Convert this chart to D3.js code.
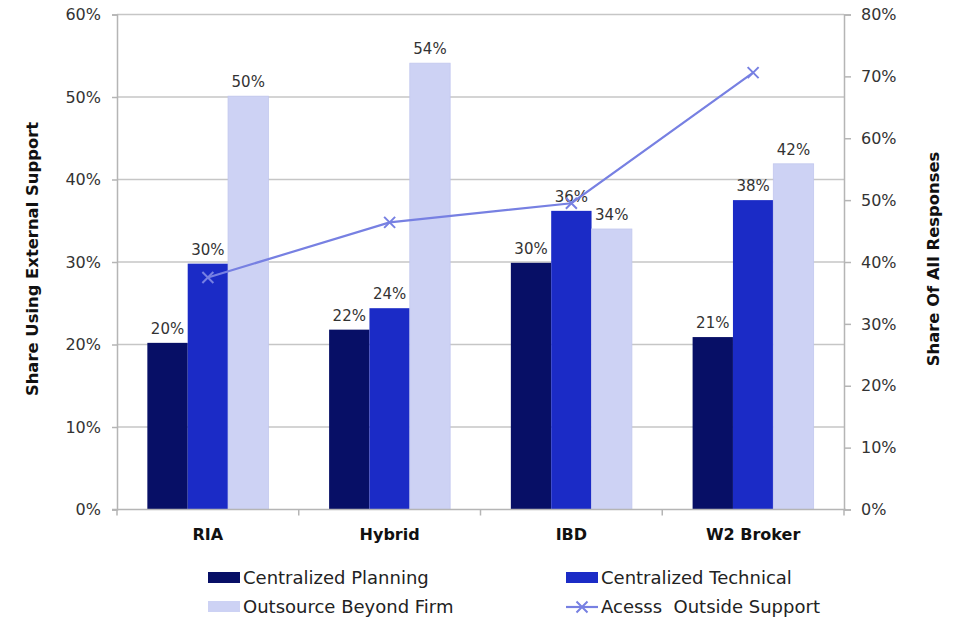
<!DOCTYPE html>
<html><head><meta charset="utf-8">
<script src="https://cdn.jsdelivr.net/npm/d3@7"></script>
<style>
body{margin:0;background:#fff;}
svg{display:block;font-family:"DejaVu Sans",sans-serif;}
</style></head>
<body><svg id="c" width="957" height="619"></svg>
<script>
const categories = ["RIA","Hybrid","IBD","W2 Broker"];
const planning = [20.2, 21.8, 29.9, 20.9];
const technical = [29.8, 24.4, 36.2, 37.5];
const outsource = [50.1, 54.1, 34.0, 41.9];
const accessOutside = [37.5, 46.4, 49.5, 70.6];
const leftTicks = [0,10,20,30,40,50,60];
const rightTicks = [0,10,20,30,40,50,60,70,80];
const seriesNames = ["Centralized Planning","Centralized Technical","Outsource Beyond Firm","Acesss  Outside Support"];
const barLabels = [["20%","22%","30%","21%"],["30%","24%","36%","38%"],["50%","54%","34%","42%"]];

const colors = ["#070f66","#1b2bc6","#cdd2f4"];
const lineColor = "#7780e2";
const svg = d3.select("#c");
const L = 117, R = 844, T = 14.5, B = 509.5;

const x = d3.scaleBand().domain(categories).range([L,R]).paddingInner(0.334).paddingOuter(0.167);
const xs = d3.scaleBand().domain([0,1,2]).range([0,x.bandwidth()]);
const yL = d3.scaleLinear().domain([0,60]).range([B,T]);
const yR = d3.scaleLinear().domain([0,80]).range([B,T]);

// gridlines
svg.append("g").selectAll("line").data(leftTicks.filter(d=>d>0)).join("line")
  .attr("x1",L).attr("x2",R).attr("y1",d=>yL(d)).attr("y2",d=>yL(d))
  .attr("stroke","#c6c6c6").attr("stroke-width",1.5);

// left axis
const gl = svg.append("g").attr("transform",`translate(${L},0)`)
  .call(d3.axisLeft(yL).tickValues(leftTicks).tickFormat(d=>d+"%").tickSize(5).tickPadding(11));
gl.select(".domain").attr("stroke","#b5b5b5").attr("stroke-width",1.5);
gl.selectAll(".tick line").attr("stroke","#b5b5b5").attr("stroke-width",1.5);
gl.selectAll("text").attr("font-size",16).attr("fill","#333").attr("font-family","DejaVu Sans");

// right axis
const gr = svg.append("g").attr("transform",`translate(${R},0)`)
  .call(d3.axisRight(yR).tickValues(rightTicks).tickFormat(d=>d+"%").tickSize(7).tickPadding(10));
gr.select(".domain").attr("stroke","#b5b5b5").attr("stroke-width",1.5);
gr.selectAll(".tick line").attr("stroke","#b5b5b5").attr("stroke-width",1.5);
gr.selectAll("text").attr("font-size",16).attr("fill","#333").attr("font-family","DejaVu Sans");

// bars
const series = [planning, technical, outsource];
series.forEach((vals,si)=>{
  const g = svg.append("g");
  g.selectAll("rect").data(vals).join("rect")
    .attr("x",(d,i)=>x(categories[i])+xs(si))
    .attr("width",xs.bandwidth())
    .attr("y",d=>yL(d))
    .attr("height",d=>B-yL(d))
    .attr("fill",colors[si])
    .attr("stroke", si===2 ? "#c2c7ee" : "none").attr("stroke-width",0.8);
  g.selectAll("text").data(vals).join("text")
    .attr("x",(d,i)=>x(categories[i])+xs(si)+xs.bandwidth()/2)
    .attr("y",d=>yL(d)-9)
    .attr("text-anchor","middle").attr("font-size",15).attr("fill","#333")
    .text((d,i)=>barLabels[si][i]);
});

// x axis
svg.append("line").attr("x1",L-5).attr("x2",R+2).attr("y1",B).attr("y2",B)
  .attr("stroke","#b5b5b5").attr("stroke-width",1.5);
const bounds = categories.map(c=>x(c)-x.step()*x.paddingInner()/2).concat([R]);
svg.append("g").selectAll("line").data(bounds).join("line")
  .attr("x1",d=>d).attr("x2",d=>d).attr("y1",B).attr("y2",B+6)
  .attr("stroke","#b5b5b5").attr("stroke-width",1.5);
svg.append("g").selectAll("text").data(categories).join("text")
  .attr("x",d=>x(d)+x.bandwidth()/2).attr("y",B+30)
  .attr("text-anchor","middle").attr("font-size",16).attr("font-weight","bold").attr("fill","#111")
  .text(d=>d);

// line
const cx = (d,i)=>x(categories[i])+x.bandwidth()/2;
svg.append("path").datum(accessOutside)
  .attr("d",d3.line().x(cx).y(d=>yR(d)))
  .attr("fill","none").attr("stroke",lineColor).attr("stroke-width",2.2);
const xm = 5.5;
svg.append("g").selectAll("path").data(accessOutside).join("path")
  .attr("d",(d,i)=>{const X=cx(d,i),Y=yR(d);return `M${X-xm},${Y-xm}L${X+xm},${Y+xm}M${X-xm},${Y+xm}L${X+xm},${Y-xm}`;})
  .attr("stroke",lineColor).attr("stroke-width",2).attr("fill","none");

// axis titles
svg.append("text").attr("transform",`translate(38,259) rotate(-90)`)
  .attr("text-anchor","middle").attr("font-size",16.4).attr("font-weight","bold").attr("fill","#111")
  .text("Share Using External Support");
svg.append("text").attr("transform",`translate(939,259) rotate(-90)`)
  .attr("text-anchor","middle").attr("font-size",16.4).attr("font-weight","bold").attr("fill","#111")
  .text("Share Of All Responses");

// legend
const legPos = [[208,578],[566,578],[208,607],[566,607]];
seriesNames.forEach((n,i)=>{
  const [lx,ly] = legPos[i];
  const g = svg.append("g");
  if(i<3){
    g.append("rect").attr("x",lx).attr("y",ly-6).attr("width",32).attr("height",11).attr("fill",colors[i]);
  } else {
    g.append("line").attr("x1",lx).attr("x2",lx+32).attr("y1",ly).attr("y2",ly).attr("stroke",lineColor).attr("stroke-width",2.2);
    g.append("path").attr("d",`M${lx+16-xm},${ly-xm}L${lx+16+xm},${ly+xm}M${lx+16-xm},${ly+xm}L${lx+16+xm},${ly-xm}`)
      .attr("stroke",lineColor).attr("stroke-width",2);
  }
  g.append("text").attr("x",lx+35).attr("y",ly+6).attr("font-size",18).attr("fill","#222")
    .style("white-space","pre").text(n);
});
</script></body></html>
